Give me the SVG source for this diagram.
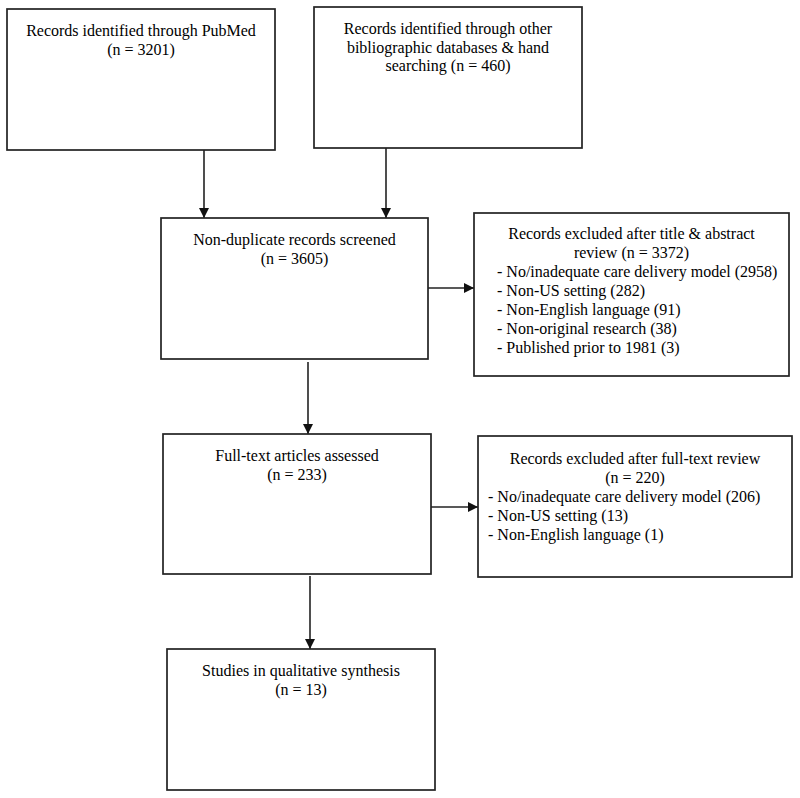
<svg xmlns="http://www.w3.org/2000/svg" width="800" height="798" viewBox="0 0 800 798">
<style>
  .box{fill:#fff;stroke:#222;stroke-width:1.7}
  .t{font-family:"Liberation Serif","Times New Roman",serif;font-size:16px;fill:#000}
  .c{text-anchor:middle}
  .conn line{stroke:#222;stroke-width:1.6}
</style>
<defs>
  <marker id="arr" viewBox="0 0 10 10" refX="10" refY="5" markerWidth="10" markerHeight="10" markerUnits="userSpaceOnUse" orient="auto">
    <path d="M0,0 L10,5 L0,10 Z" fill="#111"/>
  </marker>
</defs>
<rect width="800" height="798" fill="#fff"/>
<g class="conn">
  <line x1="204" y1="150" x2="204" y2="218" marker-end="url(#arr)"/>
  <line x1="386" y1="148" x2="386" y2="218" marker-end="url(#arr)"/>
  <line x1="428" y1="288" x2="474" y2="288" marker-end="url(#arr)"/>
  <line x1="308" y1="362" x2="308" y2="434" marker-end="url(#arr)"/>
  <line x1="431" y1="507" x2="478" y2="507" marker-end="url(#arr)"/>
  <line x1="310" y1="576" x2="310" y2="649" marker-end="url(#arr)"/>
</g>
<g id="pubmed">
  <rect class="box" x="7" y="9" width="268" height="141"/>
  <text class="t c" x="141" y="36">Records identified through PubMed</text>
  <text class="t c" x="141" y="55">(n = 3201)</text>
</g>
<g id="other">
  <rect class="box" x="314" y="7" width="268" height="141"/>
  <text class="t c" x="448" y="34">Records identified through other</text>
  <text class="t c" x="448" y="52.5">bibliographic databases &amp; hand</text>
  <text class="t c" x="448" y="71">searching (n = 460)</text>
</g>
<g id="screened">
  <rect class="box" x="161" y="218" width="267" height="141"/>
  <text class="t c" x="294.5" y="245">Non-duplicate records screened</text>
  <text class="t c" x="294.5" y="264">(n = 3605)</text>
</g>
<g id="excluded1">
  <rect class="box" x="474" y="213" width="315" height="163"/>
  <text class="t c" x="631.5" y="239">Records excluded after title &amp; abstract</text>
  <text class="t c" x="631.5" y="258">review (n = 3372)</text>
  <text class="t" x="497" y="277">- No/inadequate care delivery model (2958)</text>
  <text class="t" x="497" y="296">- Non-US setting (282)</text>
  <text class="t" x="497" y="315">- Non-English language (91)</text>
  <text class="t" x="497" y="334">- Non-original research (38)</text>
  <text class="t" x="497" y="353">- Published prior to 1981 (3)</text>
</g>
<g id="fulltext">
  <rect class="box" x="163" y="434" width="268" height="140"/>
  <text class="t c" x="297" y="461">Full-text articles assessed</text>
  <text class="t c" x="297" y="480">(n = 233)</text>
</g>
<g id="excluded2">
  <rect class="box" x="478" y="436" width="314" height="141"/>
  <text class="t c" x="635" y="464">Records excluded after full-text review</text>
  <text class="t c" x="635" y="483">(n = 220)</text>
  <text class="t" x="488" y="502">- No/inadequate care delivery model (206)</text>
  <text class="t" x="488" y="521">- Non-US setting (13)</text>
  <text class="t" x="488" y="540">- Non-English language (1)</text>
</g>
<g id="studies">
  <rect class="box" x="167" y="649" width="268" height="141"/>
  <text class="t c" x="301" y="676">Studies in qualitative synthesis</text>
  <text class="t c" x="301" y="695">(n = 13)</text>
</g>
</svg>
